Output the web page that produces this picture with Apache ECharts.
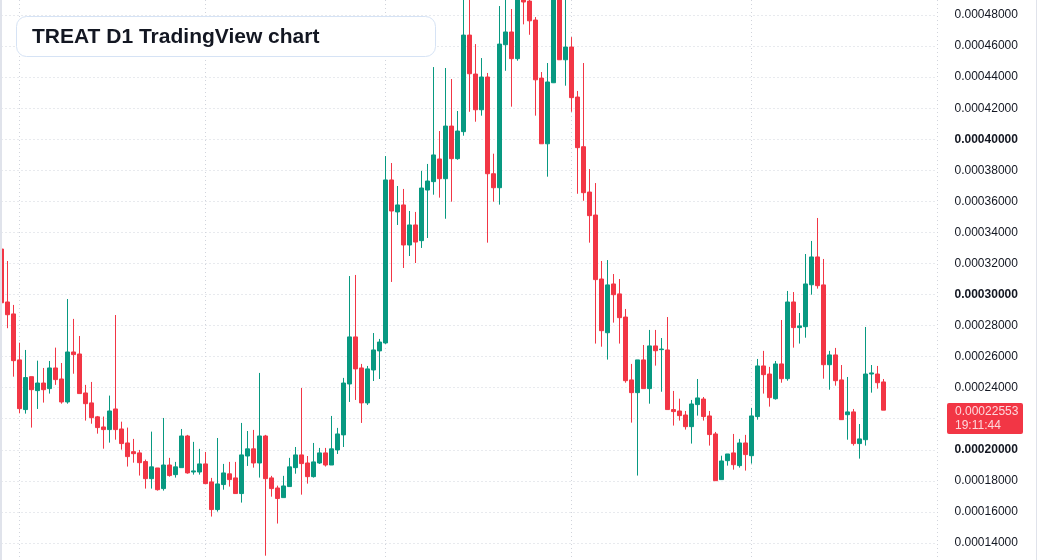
<!DOCTYPE html>
<html>
<head>
<meta charset="utf-8">
<title>TREAT D1</title>
<script src="https://cdn.jsdelivr.net/npm/echarts@6/dist/echarts.min.js"></script>
<style>
  html, body { margin: 0; padding: 0; background: #ffffff; }
  #chart { width: 1037px; height: 560px; }
</style>
</head>
<body>
<div id="chart"></div>
<script>
// daily candles, TREAT (price in USD)
const opens = [0.0003293, 0.0002952, 0.0002875, 0.0002579, 0.0002259, 0.0002471, 0.0002381, 0.0002430, 0.0002394, 0.0002527,
  0.0002456, 0.0002308, 0.0002630, 0.0002617, 0.0002366, 0.0002302, 0.0002212, 0.0002147, 0.0002130, 0.0002263,
  0.0002134, 0.0002044, 0.0001988, 0.0001980, 0.0001924, 0.0001814, 0.0001883, 0.0001750, 0.0001902, 0.0001840,
  0.0001885, 0.0002089, 0.0001857, 0.0001857, 0.0001909, 0.0001793, 0.0001615, 0.0001776, 0.0001845, 0.0001819,
  0.0001718, 0.0001960, 0.0002006, 0.0001915, 0.0002089, 0.0001819, 0.0001754, 0.0001692, 0.0001763, 0.0001885,
  0.0001967, 0.0001915, 0.0001827, 0.0001915, 0.0001980, 0.0001902, 0.0001999, 0.0002096, 0.0002424, 0.0002727,
  0.0002527, 0.0002302, 0.0002514, 0.0002637, 0.0002688, 0.0003738, 0.0003532, 0.0003577, 0.0003319, 0.0003448,
  0.0003347, 0.0003673, 0.0003727, 0.0003873, 0.0003746, 0.0004085, 0.0003875, 0.0004049, 0.0004671, 0.0004420,
  0.0004190, 0.0004401, 0.0003778, 0.0003688, 0.0004609, 0.0004691, 0.0004519, 0.0005020, 0.0004890, 0.0004768,
  0.0004394, 0.0003971, 0.0004364, 0.0005050, 0.0004512, 0.0004594, 0.0004272, 0.0003952, 0.0003660, 0.0003512,
  0.0003100, 0.0002754, 0.0003068, 0.0003004, 0.0002855, 0.0002450, 0.0002368, 0.0002579, 0.0002394, 0.0002669,
  0.0002645, 0.0002643, 0.0002259, 0.0002250, 0.0002224, 0.0002149, 0.0002291, 0.0002327, 0.0002218, 0.0002102,
  0.0001808, 0.0001930, 0.0001980, 0.0001898, 0.0002044, 0.0001962, 0.0002214, 0.0002540, 0.0002488, 0.0002329,
  0.0002553, 0.0002458, 0.0002952, 0.0002787, 0.0002793, 0.0003063, 0.0003242, 0.0003062, 0.0002548, 0.0002611,
  0.0002450, 0.0002226, 0.0002244, 0.0002040, 0.0002065, 0.0002488, 0.0002488, 0.0002437];

const highs = [0.0003293, 0.0003216, 0.0002933, 0.0002690, 0.0002643, 0.0002471, 0.0002574, 0.0002527, 0.0002572, 0.0002658,
  0.0002559, 0.0002971, 0.0002843, 0.0002733, 0.0002418, 0.0002437, 0.0002218, 0.0002214, 0.0002349, 0.0002868,
  0.0002181, 0.0002143, 0.0002070, 0.0001999, 0.0001937, 0.0002117, 0.0001883, 0.0002205, 0.0001948, 0.0001922,
  0.0002134, 0.0002096, 0.0002051, 0.0002006, 0.0001986, 0.0001819, 0.0002076, 0.0001909, 0.0001922, 0.0001922,
  0.0002173, 0.0002121, 0.0002128, 0.0002495, 0.0002096, 0.0001832, 0.0001769, 0.0001832, 0.0001948, 0.0002018,
  0.0002398, 0.0001960, 0.0002044, 0.0002012, 0.0002012, 0.0002218, 0.0002141, 0.0002463, 0.0003119, 0.0003126,
  0.0002553, 0.0002540, 0.0002752, 0.0002714, 0.0003892, 0.0003847, 0.0003699, 0.0003680, 0.0003538, 0.0003532,
  0.0003796, 0.0003841, 0.0004465, 0.0004053, 0.0004459, 0.0004388, 0.0004182, 0.0005050, 0.0005000, 0.0004613,
  0.0004523, 0.0004427, 0.0003907, 0.0004858, 0.0004980, 0.0004839, 0.0005100, 0.0005100, 0.0004960, 0.0004787,
  0.0004433, 0.0004491, 0.0005150, 0.0005150, 0.0004930, 0.0004658, 0.0004311, 0.0004491, 0.0003808, 0.0003718,
  0.0003216, 0.0003222, 0.0003132, 0.0003100, 0.0002907, 0.0002553, 0.0002579, 0.0002675, 0.0002772, 0.0002772,
  0.0002720, 0.0002855, 0.0002379, 0.0002329, 0.0002250, 0.0002321, 0.0002456, 0.0002340, 0.0002250, 0.0002115,
  0.0001962, 0.0001973, 0.0002102, 0.0002070, 0.0002096, 0.0002270, 0.0002585, 0.0002637, 0.0002534, 0.0002572,
  0.0002836, 0.0003023, 0.0003016, 0.0002881, 0.0003261, 0.0003345, 0.0003493, 0.0003229, 0.0002637, 0.0002656,
  0.0002546, 0.0002469, 0.0002263, 0.0002166, 0.0002791, 0.0002546, 0.0002540, 0.0002456];

const lows = [0.0002947, 0.0002783, 0.0002471, 0.0002235, 0.0002233, 0.0002143, 0.0002263, 0.0002304, 0.0002362, 0.0002418,
  0.0002297, 0.0002297, 0.0002490, 0.0002362, 0.0002188, 0.0002168, 0.0002104, 0.0002007, 0.0002046, 0.0002065,
  0.0002001, 0.0001892, 0.0001917, 0.0001834, 0.0001750, 0.0001750, 0.0001737, 0.0001737, 0.0001827, 0.0001821,
  0.0001885, 0.0001846, 0.0001840, 0.0001840, 0.0001782, 0.0001570, 0.0001602, 0.0001743, 0.0001763, 0.0001718,
  0.0001660, 0.0001896, 0.0001885, 0.0001821, 0.0001318, 0.0001698, 0.0001525, 0.0001692, 0.0001763, 0.0001846,
  0.0001711, 0.0001782, 0.0001821, 0.0001909, 0.0001892, 0.0001902, 0.0001973, 0.0002018, 0.0002308, 0.0002321,
  0.0002173, 0.0002289, 0.0002443, 0.0002456, 0.0002682, 0.0003081, 0.0003448, 0.0003171, 0.0003248, 0.0003203,
  0.0003300, 0.0003364, 0.0003643, 0.0003624, 0.0003488, 0.0003598, 0.0003868, 0.0004023, 0.0004177, 0.0004113,
  0.0004152, 0.0003334, 0.0003598, 0.0003579, 0.0004441, 0.0004210, 0.0004506, 0.0004740, 0.0004673, 0.0004152,
  0.0003971, 0.0003759, 0.0004362, 0.0004512, 0.0004345, 0.0004177, 0.0003649, 0.0003604, 0.0003334, 0.0002684,
  0.0002664, 0.0002581, 0.0002819, 0.0002684, 0.0002432, 0.0002175, 0.0001834, 0.0002394, 0.0002297, 0.0002542,
  0.0002374, 0.0002259, 0.0002156, 0.0002188, 0.0002130, 0.0002040, 0.0002220, 0.0002188, 0.0002027, 0.0001801,
  0.0001808, 0.0001898, 0.0001872, 0.0001885, 0.0001866, 0.0001911, 0.0002194, 0.0002362, 0.0002278, 0.0002323,
  0.0002432, 0.0002445, 0.0002658, 0.0002684, 0.0002722, 0.0002999, 0.0003038, 0.0002458, 0.0002387, 0.0002413,
  0.0002194, 0.0002065, 0.0002027, 0.0001943, 0.0002027, 0.0002368, 0.0002394, 0.00022553];

const closes = [0.0002947, 0.0002870, 0.0002574, 0.0002265, 0.0002465, 0.0002387, 0.0002430, 0.0002387, 0.0002527, 0.0002452,
  0.0002308, 0.0002630, 0.0002613, 0.0002362, 0.0002297, 0.0002207, 0.0002143, 0.0002130, 0.0002250, 0.0002130,
  0.0002040, 0.0001956, 0.0001975, 0.0001917, 0.0001814, 0.0001890, 0.0001743, 0.0001902, 0.0001834, 0.0001890,
  0.0002089, 0.0001851, 0.0001864, 0.0001909, 0.0001782, 0.0001615, 0.0001780, 0.0001851, 0.0001808, 0.0001718,
  0.0001967, 0.0002006, 0.0001915, 0.0002089, 0.0001814, 0.0001750, 0.0001686, 0.0001767, 0.0001890, 0.0001967,
  0.0001911, 0.0001827, 0.0001922, 0.0001980, 0.0001902, 0.0002006, 0.0002102, 0.0002430, 0.0002727, 0.0002521,
  0.0002302, 0.0002521, 0.0002643, 0.0002694, 0.0003738, 0.0003538, 0.0003577, 0.0003319, 0.0003448, 0.0003338,
  0.0003686, 0.0003731, 0.0003899, 0.0003746, 0.0004085, 0.0003875, 0.0004053, 0.0004671, 0.0004422, 0.0004190,
  0.0004401, 0.0003778, 0.0003688, 0.0004613, 0.0004691, 0.0004519, 0.0005020, 0.0004884, 0.0004763, 0.0004383,
  0.0003971, 0.0004369, 0.0005050, 0.0004512, 0.0004594, 0.0004268, 0.0003946, 0.0003656, 0.0003508, 0.0003096,
  0.0002767, 0.0003062, 0.0002999, 0.0002851, 0.0002445, 0.0002368, 0.0002579, 0.0002394, 0.0002669, 0.0002638,
  0.0002649, 0.0002259, 0.0002246, 0.0002220, 0.0002149, 0.0002295, 0.0002334, 0.0002214, 0.0002098, 0.0001801,
  0.0001928, 0.0001973, 0.0001904, 0.0002044, 0.0001969, 0.0002218, 0.0002540, 0.0002484, 0.0002336, 0.0002553,
  0.0002458, 0.0002952, 0.0002787, 0.0002798, 0.0003068, 0.0003242, 0.0003057, 0.0002548, 0.0002611, 0.0002445,
  0.0002194, 0.0002244, 0.0002040, 0.0002070, 0.0002488, 0.0002495, 0.0002432, 0.00022553];

// one category per day, the last few are empty room on the right
const dates = [];
const firstDay = Date.UTC(2024, 1, 27);
for (let i = 0; i < 157; i++) {
  dates.push(new Date(firstDay + i * 86400000).toISOString().slice(0, 10));
}

const UP = '#089981';
const DOWN = '#f23645';
const GRID = '#d1d4dc';
const FONT = '"Liberation Sans", Arial, sans-serif';
const lastClose = closes[closes.length - 1];
const countdown = '19:11:44';

const candles = closes.map((c, i) => [opens[i], c, lows[i], highs[i]]);

const chart = echarts.init(document.getElementById('chart'), null, { renderer: 'canvas' });

chart.setOption({
  animation: false,
  backgroundColor: '#ffffff',
  // the price range runs past the top and bottom of the window, like the original
  grid: { left: 1.5, right: 99.5, top: -16, bottom: -14, outerBoundsMode: 'none', containLabel: false },
  xAxis: {
    type: 'category',
    data: dates,
    boundaryGap: false,
    axisLine: { show: false },
    axisTick: { show: false },
    axisLabel: { show: false },
    splitLine: {
      show: true,
      interval: (idx, val) => val.endsWith('-01'),
      lineStyle: { color: GRID, type: [1, 3], width: 1 }
    }
  },
  yAxis: {
    type: 'value',
    position: 'right',
    min: 0.00012,
    max: 0.0005,
    interval: 0.00002,
    axisLine: { show: false },
    axisTick: { show: false },
    splitLine: { show: true, lineStyle: { color: GRID, type: [1, 3], width: 1 } },
    axisLabel: {
      margin: 17,
      color: '#131722',
      fontSize: 12,
      fontFamily: FONT,
      formatter: v => {
        const s = v.toFixed(8);
        return Math.round(v * 1e5) % 10 === 0 ? '{b|' + s + '}' : s;
      },
      rich: { b: { fontWeight: 'bold', fontSize: 12, fontFamily: FONT, color: '#131722' } }
    }
  },
  series: [{
    type: 'candlestick',
    data: candles,
    barWidth: 4,
    clip: true,
    itemStyle: {
      color: UP, color0: DOWN,
      borderColor: UP, borderColor0: DOWN,
      borderWidth: 1
    },
    emphasis: { disabled: true },
    markLine: {
      silent: true,
      symbol: ['none', 'none'],
      label: { show: false },
      lineStyle: { color: DOWN, type: [1, 3], width: 1 },
      data: [{ yAxis: lastClose }]
    }
  }]
});

// price tag and title box
const py = chart.convertToPixel({ yAxisIndex: 0 }, lastClose);

chart.setOption({
  graphic: [
    {
      type: 'line', z: 100, silent: true,
      shape: { x1: 1, y1: 0, x2: 1, y2: 560 },
      style: { stroke: '#e0e3eb', lineWidth: 2 }
    },
    {
      type: 'line', z: 100, silent: true,
      shape: { x1: 1036.5, y1: 0, x2: 1036.5, y2: 560 },
      style: { stroke: '#e0e3eb', lineWidth: 1 }
    },
    {
      type: 'rect', z: 100, silent: true,
      shape: { x: 947, y: Math.round(py) - 7, width: 76, height: 31, r: 2 },
      style: { fill: DOWN }
    },
    {
      type: 'text', z: 101, silent: true,
      x: 955, y: Math.round(py) - 5,
      style: {
        text: lastClose.toFixed(8) + '\n' + countdown,
        font: '12px ' + FONT,
        lineHeight: 14,
        fill: '#fdd8dc',
        verticalAlign: 'top'
      }
    },
    {
      type: 'rect', z: 100, silent: true,
      shape: { x: 16.5, y: 16.5, width: 419, height: 40, r: 10 },
      style: { fill: '#ffffff', stroke: '#d6e3f5', lineWidth: 1 }
    },
    {
      type: 'text', z: 101, silent: true,
      x: 32, y: 37,
      style: {
        text: 'TREAT D1 TradingView chart',
        font: 'bold 21px ' + FONT,
        fill: '#131722',
        verticalAlign: 'middle'
      }
    }
  ]
});
</script>
</body>
</html>
